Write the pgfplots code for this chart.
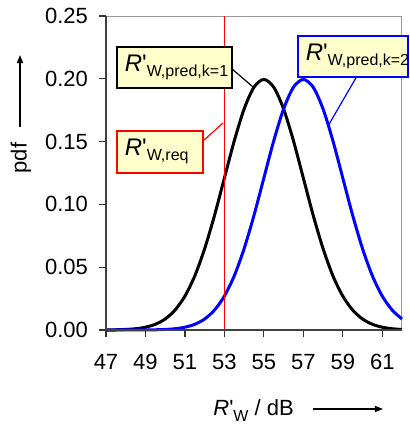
\documentclass[border=0pt]{standalone}
\usepackage{pgfplots}
\pgfplotsset{compat=1.18}
\usepackage{fontspec}
\setmainfont{Liberation Sans}[Ligatures=TeXOff]
\usetikzlibrary{arrows.meta}
\definecolor{boxfill}{HTML}{FFFFCC}
\newcommand{\Rsub}[1]{{\fontsize{12}{14}\selectfont\textit{R}\char"0027}\raisebox{-2.5pt}{\fontsize{8}{9}\selectfont #1}}
\begin{document}
\begin{tikzpicture}[font=\fontsize{11}{13}\selectfont]
\begin{axis}[
  width=148pt, height=157pt, scale only axis,
  xmin=47, xmax=62, ymin=0, ymax=0.25,
  xtick={47,49,51,53,55,57,59,61},
  ytick={0,0.05,0.1,0.15,0.2,0.25},
  scaled y ticks=false,
  yticklabel style={xshift=-2pt, /pgf/number format/.cd, fixed, fixed zerofill, precision=2},
  xticklabel style={yshift=-5pt},
  /pgf/number format/assume math mode=true,
  tick align=outside, xtick pos=left, ytick pos=left,
  major tick length=3.5pt,
  tick style={black!80, line width=0.6pt},
  axis line style={black!40, line width=0.5pt},
  clip=false,
]
\addplot[black, line width=1.5pt, smooth] coordinates {
(47,0.0000669) (47.5,0.000176) (48,0.000436) (48.5,0.00101) (49,0.00222)
(49.5,0.00455) (50,0.00876) (50.5,0.0159) (51,0.0270) (51.5,0.0431)
(52,0.0648) (52.5,0.0913) (53,0.1210) (53.5,0.1506) (54,0.1760)
(54.5,0.1933) (55,0.1995) (55.5,0.1933) (56,0.1760) (56.5,0.1506)
(57,0.1210) (57.5,0.0913) (58,0.0648) (58.5,0.0431) (59,0.0270)
(59.5,0.0159) (60,0.00876) (60.5,0.00455) (61,0.00222) (61.5,0.00101)
(62,0.000436)};
\addplot[blue, line width=1.5pt, smooth] coordinates {
(47,0.0000007) (47.5,0.0000025) (48,0.0000080) (48.5,0.0000239) (49,0.0000669)
(49.5,0.000176) (50,0.000436) (50.5,0.00101) (51,0.00222) (51.5,0.00455)
(52,0.00876) (52.5,0.0159) (53,0.0270) (53.5,0.0431) (54,0.0648)
(54.5,0.0913) (55,0.1210) (55.5,0.1506) (56,0.1760) (56.5,0.1933)
(57,0.1995) (57.5,0.1933) (58,0.1760) (58.5,0.1506) (59,0.1210)
(59.5,0.0913) (60,0.0648) (60.5,0.0431) (61,0.0270) (61.5,0.0159)
(62,0.00876)};
\addplot[red, line width=0.8pt] coordinates {(53,0) (53,0.25)};
% frame: darker left and bottom
\draw[black!75, line width=0.7pt] (rel axis cs:0,1) -- (rel axis cs:0,0) -- (rel axis cs:1,0);
% pointer lines
\draw[black, line width=0.6pt] (axis cs:53.33,0.2086) -- (axis cs:54.45,0.1935);
\draw[blue, line width=0.6pt] (axis cs:59.72,0.2022) -- (axis cs:58.25,0.1624);
\draw[red, line width=0.6pt] (axis cs:51.86,0.1497) -- (axis cs:52.93,0.1648);
% boxes
\node[draw=black, line width=0.8pt, fill=boxfill, anchor=north west, inner xsep=4pt, inner ysep=0pt,
  text width=49.5pt, minimum height=20.5pt, align=left] at (axis cs:47.51,0.2261) {\Rsub{W,pred,k=1}};
\node[draw=red, line width=0.8pt, fill=boxfill, anchor=north west, inner xsep=4pt, inner ysep=0pt,
  text width=35pt, minimum height=21pt, align=left] at (axis cs:47.51,0.1592) {\Rsub{W,req}};
\node[draw=blue, line width=0.8pt, fill=boxfill, anchor=north west, inner xsep=4pt, inner ysep=0pt,
  text width=47pt, minimum height=20.5pt, align=left] at (axis cs:56.68,0.2349) {\Rsub{W,pred,k=2}};
\end{axis}
\node[rotate=90] at (-42.5pt,86pt) {pdf};
\draw[-{Triangle[length=4pt,width=3pt]}, line width=0.7pt] (-43pt,101.5pt) -- (-43pt,137.5pt);
\node[anchor=base west, inner sep=0pt] at (53.5pt,-42.5pt) {\textit{R}\char"0027\raisebox{-3.3pt}{\fontsize{8}{9}\selectfont W} / dB};
\draw[-{Triangle[length=4pt,width=3pt]}, line width=0.7pt] (103.5pt,-39.5pt) -- (138.5pt,-39.5pt);
\pgfresetboundingbox
\path[use as bounding box] (-53pt,-47.5pt) rectangle (151.5pt,165pt);
\end{tikzpicture}
\end{document}
